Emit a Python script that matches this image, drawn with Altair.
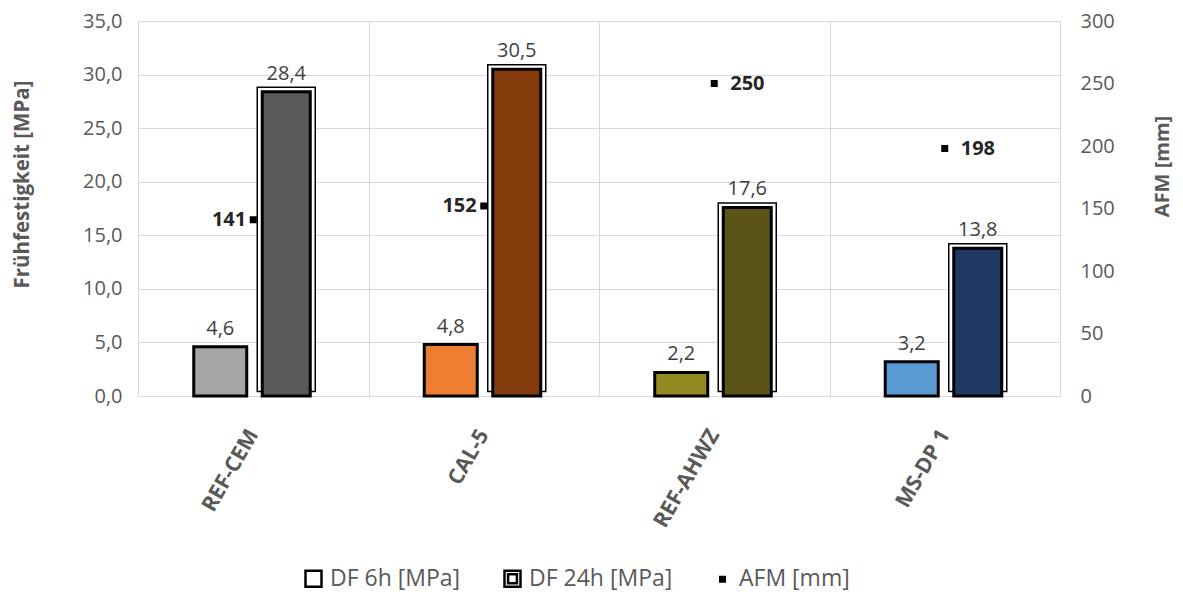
import altair as alt
import pandas as pd

categories = ["REF-CEM", "CAL-5", "REF-AHWZ", "MS-DP 1"]
df6h = [4.6, 4.8, 2.2, 3.2]
df24h = [28.4, 30.5, 17.6, 13.8]
afm = [141, 152, 250, 198]
color6h = ["#A5A5A5", "#ED7D31", "#948A21", "#5B9BD5"]
color24h = ["#595959", "#843C0C", "#5C5416", "#1F3864"]
series = ["DF 6h [MPa]", "DF 24h [MPa]", "AFM [mm]"]
afm_left = ["REF-CEM", "CAL-5"]

FONT = "Open Sans"
GRID = "#D9D9D9"
TXT = "#595959"

rows = []
for i, c in enumerate(categories):
    rows.append({"cat": c, "series": series[0], "value": df6h[i], "color": color6h[i]})
    rows.append({"cat": c, "series": series[1], "value": df24h[i], "color": color24h[i]})
bars = pd.DataFrame(rows)
bars["label"] = bars["value"].map(lambda v: f"{v:.1f}".replace(".", ","))
afm_df = pd.DataFrame({"cat": categories, "afm": afm, "series": series[2]})

x_enc = alt.X(
    "cat:N",
    sort=categories,
    scale=alt.Scale(paddingInner=0, paddingOuter=0),
    axis=alt.Axis(
        title=None, labelAngle=-60, labelAlign="right", labelBaseline="middle",
        labelFontSize=21.5, labelFontWeight="bold", labelColor=TXT, labelFont=FONT,
        labelPadding=35, grid=True, gridColor=GRID, tickBand="extent",
        ticks=False, domain=False,
    ),
)
xoff = alt.XOffset("series:N", sort=series[:2],
                   scale=alt.Scale(paddingInner=0, paddingOuter=0.746))
y_left = alt.Y(
    "value:Q",
    scale=alt.Scale(domain=[0, 35]),
    axis=alt.Axis(
        title="Frühfestigkeit [MPa]", values=[0, 5, 10, 15, 20, 25, 30, 35],
        labelExpr="replace(format(datum.value, '.1f'), '.', ',')",
        labelFontSize=20, labelColor=TXT, labelFont=FONT, labelPadding=16,
        titleFontSize=20.5, titleFontWeight="bold", titleColor=TXT, titleFont=FONT,
        titlePadding=50, titleY=163, grid=True, gridColor=GRID, ticks=False, domain=False,
    ),
)
col = alt.Color("color:N", scale=None)

base = alt.Chart(bars)
b6 = base.transform_filter(alt.datum.series == series[0]).mark_bar(
    size=53, stroke="black", strokeWidth=3
).encode(x=x_enc, xOffset=xoff, y=y_left, color=col)

b24_outer = base.transform_filter(alt.datum.series == series[1]).mark_bar(
    size=58, stroke="black", strokeWidth=1.5, fill="white", yOffset=-4.5
).encode(x=x_enc, xOffset=xoff, y=y_left)

b24_inner = base.transform_filter(alt.datum.series == series[1]).mark_bar(
    size=48, stroke="black", strokeWidth=3
).encode(x=x_enc, xOffset=xoff, y=y_left, color=col)

bar_labels = base.mark_text(
    baseline="bottom", dy=-8, fontSize=20, font=FONT, color="#404040"
).encode(x=x_enc, xOffset=xoff, y=y_left, text="label:N")

y_right = alt.Y(
    "afm:Q",
    scale=alt.Scale(domain=[0, 300]),
    axis=alt.Axis(
        orient="right", title="AFM [mm]", values=[0, 50, 100, 150, 200, 250, 300],
        labelFontSize=20, labelColor=TXT, labelFont=FONT, labelPadding=20,
        titleFontSize=20, titleFontWeight="bold", titleColor=TXT, titleFont=FONT,
        titleAngle=270, titlePadding=58, titleY=145, grid=False, ticks=False, domain=False,
    ),
)

p_single = "M-1,-1H1V1H-1Z"
p_double = "M-1,-1H1V1H-1Z M-0.55,-0.55H0.55V0.55H-0.55Z"
p_small = "M-0.28,-0.28H0.28V0.28H-0.28Z"

leg = alt.Legend(
    title=None, orient="none", direction="horizontal", legendX=164, legendY=546,
    labelFontSize=23, labelColor=TXT, labelFont=FONT, symbolSize=256,
    symbolStrokeColor="black", symbolStrokeWidth=2.5, columnPadding=38, labelOffset=5,
)
afm_base = alt.Chart(afm_df)
x_afm = alt.X("cat:N", sort=categories)
afm_pts = afm_base.mark_point(filled=True, strokeWidth=2.5, size=256, opacity=1).encode(
    x=x_afm,
    y=y_right,
    shape=alt.Shape("series:N", scale=alt.Scale(domain=series, range=[p_single, p_double, p_small]), legend=leg),
    fill=alt.Fill("series:N", scale=alt.Scale(domain=series, range=["white", "white", "black"]), legend=leg),
    stroke=alt.Stroke("series:N", scale=alt.Scale(domain=series, range=["black", "black", "black"]), legend=leg),
)
afm_lab_l = afm_base.transform_filter(alt.FieldOneOfPredicate(field="cat", oneOf=afm_left)).mark_text(
    align="right", dx=-7, fontSize=20, fontWeight="bold", font=FONT, color="#262626"
).encode(x=x_afm, y=y_right, text="afm:Q")
afm_lab_r = afm_base.transform_filter(~alt.FieldOneOfPredicate(field="cat", oneOf=afm_left)).mark_text(
    align="left", dx=16, fontSize=20, fontWeight="bold", font=FONT, color="#262626"
).encode(x=x_afm, y=y_right, text="afm:Q")

left = alt.layer(b6, b24_outer, b24_inner, bar_labels)
right = alt.layer(afm_pts, afm_lab_l, afm_lab_r)

chart = alt.layer(left, right).resolve_scale(y="independent").properties(
    width=922, height=375,
    autosize=alt.AutoSizeParams(type="none"),
    padding={"left": 130, "top": 13, "right": 115, "bottom": 196},
).configure_view(stroke=GRID).configure(background="white")

chart.save("out.html", embed_options={"renderer": "svg", "actions": False})
